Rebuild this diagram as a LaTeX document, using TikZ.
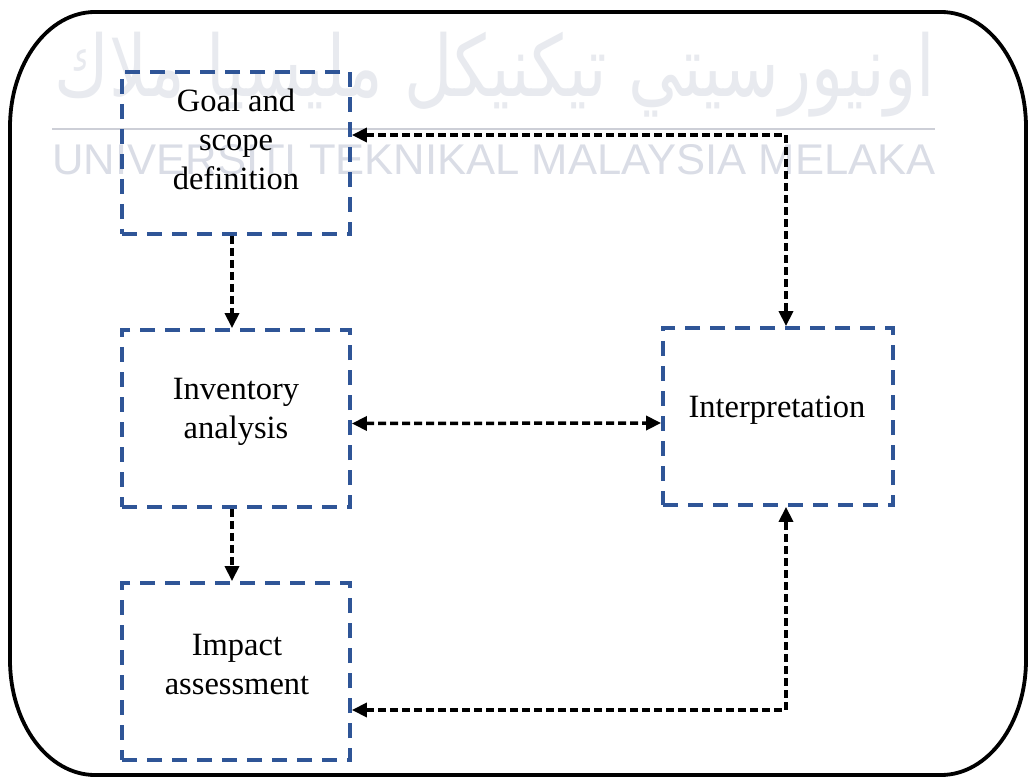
\documentclass[tikz,border=0pt]{standalone}
\usepackage{fontspec}
\setmainfont{Liberation Serif}
\newfontfamily\wmsans{Liberation Sans}
\newfontfamily\arabicfont[Script=Arabic]{DejaVu Sans}
\TeXXeTstate=1
\usetikzlibrary{arrows.meta}
\definecolor{boxblue}{HTML}{2F5597}
\definecolor{wmgray}{HTML}{DADDE6}
\definecolor{wmjawi}{HTML}{E8EAEF}
\tikzset{
  stepbox/.style={draw=boxblue, line width=3.8pt, dash pattern=on 15pt off 10pt, rectangle, inner sep=0pt},
  lbl/.style={font=\fontsize{32.5}{39}\selectfont, align=center, inner sep=0pt},
  conn/.style={draw=black, line width=3.5pt, dash pattern=on 8pt off 4pt, {Triangle[length=15pt,width=14pt]}-{Triangle[length=15pt,width=14pt]}},
  conn1/.style={draw=black, line width=3.5pt, dash pattern=on 8pt off 4pt, -{Triangle[length=15pt,width=14pt]}},
  frame/.style={draw=black, line width=3.8pt}
}
\begin{document}
\begin{tikzpicture}[x=1pt,y=-1pt]
\fill[white] (0,0) rectangle (1029,778);
\useasboundingbox (0,0) rectangle (1029,778);
% watermark
\node[text=wmjawi, inner sep=0pt] (wmj) at (495,75) {\resizebox*{880pt}{85pt}{\arabicfont\beginR اونيورسيتي تيكنيكل مليسيا ملاك\endR}};
\draw[wmgray!85!gray, line width=2.5pt] (52,129) coordinate (wml) -- (935,129) coordinate (wmr);
\node[text=wmgray, inner sep=0pt] (wml2) at (494,160) {\resizebox{883pt}{30pt}{\wmsans UNIVERSITI TEKNIKAL MALAYSIA MELAKA}};
% frame
\draw[frame] (941,12) .. controls (988,12) and (1026,63.5) .. (1026,127)
  -- (1026,660) .. controls (1026,723.5) and (988,775) .. (941,775)
  -- (95,775) .. controls (48,775) and (10,723.5) .. (10,660)
  -- (10,127) .. controls (10,63.5) and (48,12) .. (95,12) -- cycle;
% boxes
\node[stepbox, minimum width=228pt, minimum height=162pt] (goal) at (236,153) {};
\node[stepbox, minimum width=228pt, minimum height=177pt] (inv) at (236,418.5) {};
\node[stepbox, minimum width=228pt, minimum height=177pt] (imp) at (236,671.5) {};
\node[stepbox, minimum width=230pt, minimum height=177pt] (interp) at (778,416.5) {};
% texts
\node[lbl] (goalt) at (236,139) {Goal and\\scope\\definition};
\node[lbl] (invt) at (236,412) {Inventory\\analysis};
\node[lbl] (impt) at (237,665) {Impact\\assessment};
\node[lbl] (interpt) at (777,410) {Interpretation};
% connectors
\coordinate (c1) at (786,135);
\coordinate (c2) at (786,710);
\draw[conn1] ([xshift=-4pt]goal.south) -- ([xshift=-4pt]inv.north);
\draw[conn1] ([xshift=-4pt]inv.south) -- ([xshift=-4pt]imp.north);
\draw[conn] ([yshift=-5pt]inv.east) -- ([yshift=-6.5pt]interp.west);
\draw[conn] ([yshift=18pt]goal.east) -- (c1) -- (c1 |- interp.north);
\draw[conn] ([yshift=-38.5pt]imp.east) -- (c2) -- (c2 |- interp.south);
\end{tikzpicture}
\end{document}
